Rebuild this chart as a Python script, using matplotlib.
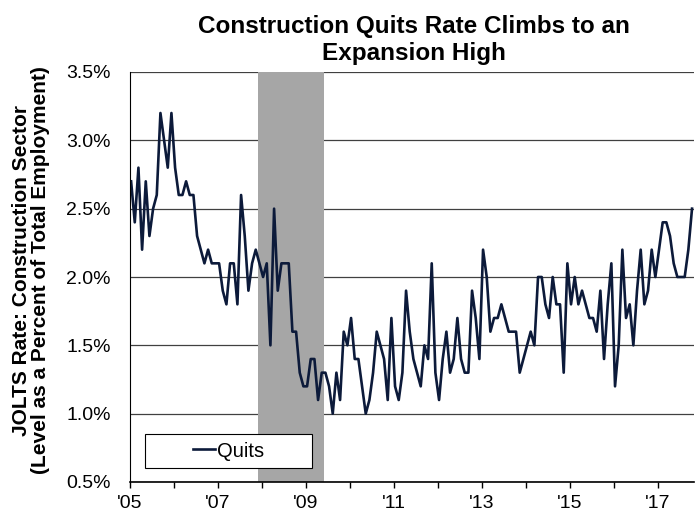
import numpy as np
import pandas as pd
import matplotlib
matplotlib.use('Agg')
import matplotlib.pyplot as plt
from matplotlib.patches import Rectangle

plt.rcParams['font.family'] = ['Liberation Sans', 'DejaVu Sans']

# monthly construction quits rate (%), Jan 2005 - Oct 2017
quits = [
    2.7, 2.4, 2.8, 2.2, 2.7, 2.3, 2.5, 2.6, 3.2, 3.0, 2.8, 3.2,   # 2005
    2.8, 2.6, 2.6, 2.7, 2.6, 2.6, 2.3, 2.2, 2.1, 2.2, 2.1, 2.1,   # 2006
    2.1, 1.9, 1.8, 2.1, 2.1, 1.8, 2.6, 2.3, 1.9, 2.1, 2.2, 2.1,   # 2007
    2.0, 2.1, 1.5, 2.5, 1.9, 2.1, 2.1, 2.1, 1.6, 1.6, 1.3, 1.2,   # 2008
    1.2, 1.4, 1.4, 1.1, 1.3, 1.3, 1.2, 1.0, 1.3, 1.1, 1.6, 1.5,   # 2009
    1.7, 1.4, 1.4, 1.2, 1.0, 1.1, 1.3, 1.6, 1.5, 1.4, 1.1, 1.7,   # 2010
    1.2, 1.1, 1.3, 1.9, 1.6, 1.4, 1.3, 1.2, 1.5, 1.4, 2.1, 1.3,   # 2011
    1.1, 1.4, 1.6, 1.3, 1.4, 1.7, 1.4, 1.3, 1.3, 1.9, 1.7, 1.4,   # 2012
    2.2, 2.0, 1.6, 1.7, 1.7, 1.8, 1.7, 1.6, 1.6, 1.6, 1.3, 1.4,   # 2013
    1.5, 1.6, 1.5, 2.0, 2.0, 1.8, 1.7, 2.0, 1.8, 1.8, 1.3, 2.1,   # 2014
    1.8, 2.0, 1.8, 1.9, 1.8, 1.7, 1.7, 1.6, 1.9, 1.4, 1.8, 2.1,   # 2015
    1.2, 1.5, 2.2, 1.7, 1.8, 1.5, 1.9, 2.2, 1.8, 1.9, 2.2, 2.0,   # 2016
    2.2, 2.4, 2.4, 2.3, 2.1, 2.0, 2.0, 2.0, 2.2, 2.5,             # 2017
]
months = pd.date_range('2005-01-01', periods=len(quits), freq='MS')

# recession (Dec 2007 - Jun 2009)
rec_start = pd.Timestamp('2007-12-01')
rec_end = pd.Timestamp('2009-06-01')

year_ticks = list(range(2005, 2018))
year_labels = ["'%02d" % (y % 100) if y % 2 == 1 else '' for y in year_ticks]
y_ticks = [0.5, 1.0, 1.5, 2.0, 2.5, 3.0, 3.5]


def to_year(d):
    return d.year + (d.month - 0.7) / 12


x = np.array([to_year(d) for d in months])

fig = plt.figure(figsize=(6.95, 5.12), dpi=100)
ax = fig.add_axes([130 / 695, 30 / 512, 564 / 695, 410 / 512])

ax.set_axisbelow(True)
ax.yaxis.grid(True, color='#404040', lw=0.9)
ax.axvspan(to_year(rec_start) - 0.04, to_year(rec_end) - 0.03, color='#a6a6a6', lw=0, zorder=1.5)
ax.plot(x, quits, color='#0c1a3a', lw=1.9, zorder=2, label='Quits')

ax.set_xlim(2005, 2017.82)
ax.set_ylim(0.5, 3.5)
ax.set_xticks(year_ticks)
ax.set_xticklabels(year_labels, fontsize=14)
ax.set_yticks(y_ticks)
ax.set_yticklabels(['%.1f%%' % v for v in y_ticks], fontsize=14)
ax.tick_params(axis='y', length=0, pad=14)
ax.tick_params(axis='x', length=4, width=1, direction='out', pad=5)

for s in ['top', 'right']:
    ax.spines[s].set_visible(False)
ax.spines['left'].set_color('black')
ax.spines['bottom'].set_color('black')
ax.spines['bottom'].set_linewidth(1.2)

# legend box
ax.add_patch(Rectangle((0.027, 0.034), 0.296, 0.083, transform=ax.transAxes,
                       fc='white', ec='black', lw=0.8, zorder=3))
leg = ax.legend(loc='center', bbox_to_anchor=(0.175, 0.0755), frameon=False,
                fontsize=14.5, handlelength=1.1, handletextpad=0.1)
leg.set_zorder(4)

fig.text(414 / 695, 1 - 40 / 512, 'Construction Quits Rate Climbs to an\nExpansion High',
         ha='center', va='center', fontsize=17.5, fontweight='bold', linespacing=1.2)
fig.text(31 / 695, 1 - 270 / 512,
         'JOLTS Rate: Construction Sector\n(Level as a Percent of Total Employment)',
         ha='center', va='center', rotation=90, fontsize=15, fontweight='bold',
         linespacing=1.05)

fig.savefig('out.png', dpi=100)
